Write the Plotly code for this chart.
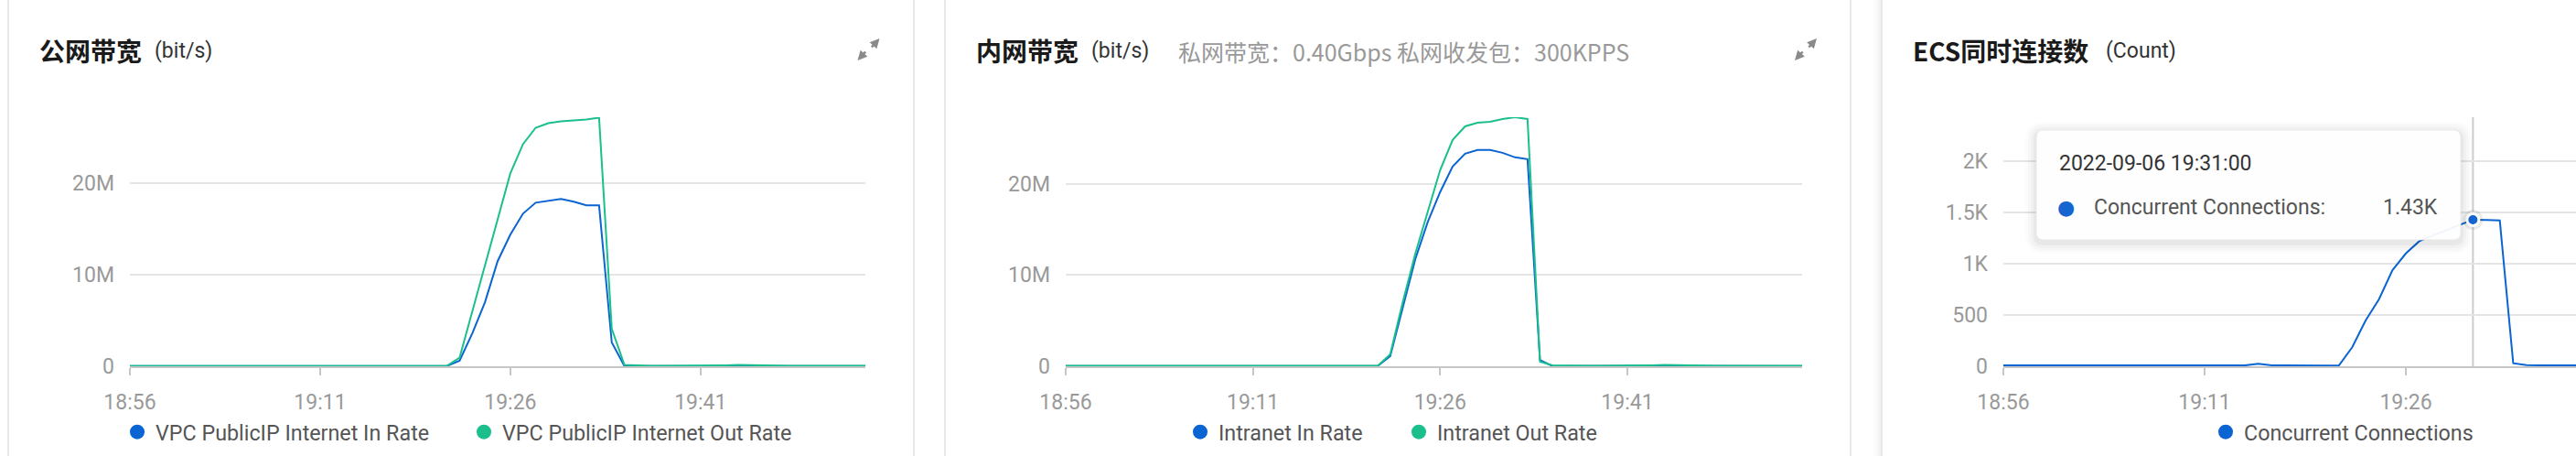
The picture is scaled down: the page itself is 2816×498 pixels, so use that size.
import plotly.graph_objects as go
from datetime import datetime, timedelta

W, H = 2816, 498
FONT = "Roboto, 'Noto Sans CJK SC', sans-serif"
CJK = "'Noto Sans CJK SC', Roboto, sans-serif"
BLUE = "#0a64d2"
GREEN = "#1bbf8d"

start = datetime(2022, 9, 6, 18, 56)

# ---------------- data ----------------
# Panel 1: public bandwidth (Mbit/s), one point per minute from 18:56
public_in = [0.02, 0.02, 0.02, 0.02, 0.02, 0.02, 0.02, 0.02, 0.03, 0.03,
             0.03, 0.02, 0.02, 0.02, 0.02, 0.02, 0.02, 0.02, 0.02, 0.02,
             0.02, 0.03, 0.02, 0.02, 0.02, 0.03, 0.6, 3.6, 7.0, 11.5,
             14.4, 16.7, 17.9, 18.1, 18.3, 18.0, 17.6, 17.6, 2.6, 0.02,
             0.02, 0.02, 0.02, 0.02, 0.02, 0.02, 0.02, 0.03, 0.05, 0.03,
             0.02, 0.02, 0.02, 0.02, 0.02, 0.02, 0.02, 0.02, 0.02]
public_out = [0.03, 0.03, 0.03, 0.04, 0.04, 0.04, 0.04, 0.05, 0.06, 0.08,
              0.06, 0.04, 0.03, 0.03, 0.03, 0.03, 0.03, 0.04, 0.04, 0.03,
              0.03, 0.04, 0.03, 0.03, 0.03, 0.05, 0.95, 6.0, 11.2, 16.2,
              21.1, 24.3, 26.1, 26.6, 26.8, 26.9, 27.0, 27.2, 4.1, 0.15,
              0.08, 0.05, 0.04, 0.04, 0.04, 0.04, 0.05, 0.1, 0.14, 0.1,
              0.05, 0.04, 0.04, 0.04, 0.04, 0.04, 0.04, 0.04, 0.04]

# Panel 2: intranet bandwidth (Mbit/s)
intranet_in = [0.03, 0.03, 0.03, 0.03, 0.03, 0.03, 0.03, 0.03, 0.03, 0.03,
               0.04, 0.05, 0.04, 0.03, 0.03, 0.03, 0.03, 0.03, 0.03, 0.03,
               0.03, 0.04, 0.03, 0.03, 0.03, 0.03, 1.1, 6.3, 11.7, 15.8,
               19.1, 21.9, 23.3, 23.7, 23.7, 23.4, 22.9, 22.7, 0.7, 0.02,
               0.03, 0.03, 0.03, 0.03, 0.03, 0.03, 0.03, 0.04, 0.05, 0.04,
               0.03, 0.03, 0.03, 0.03, 0.03, 0.03, 0.03, 0.03, 0.03, 0.03]
intranet_out = [0.05, 0.05, 0.05, 0.05, 0.05, 0.05, 0.05, 0.05, 0.06, 0.08,
                0.1, 0.12, 0.08, 0.05, 0.05, 0.05, 0.05, 0.05, 0.05, 0.05,
                0.06, 0.08, 0.06, 0.05, 0.05, 0.05, 1.3, 7.0, 12.3, 17.0,
                21.5, 24.8, 26.3, 26.7, 26.8, 27.1, 27.3, 27.1, 0.5, 0.1,
                0.06, 0.05, 0.05, 0.05, 0.05, 0.05, 0.06, 0.1, 0.14, 0.1,
                0.06, 0.05, 0.05, 0.05, 0.05, 0.05, 0.05, 0.05, 0.05, 0.05]

# Panel 3: concurrent connections (count)
connections = [10, 10, 9, 9, 9, 9, 8, 9, 10, 12,
               14, 12, 10, 9, 9, 9, 8, 8, 8, 24,
               10, 9, 8, 8, 8, 6, 185, 446, 655, 937,
               1101, 1220, 1275, 1327, 1380, 1430, 1428, 1422, 30, 12,
               9, 9, 9, 9, 8, 8, 8, 8, 8, 8,
               8, 8, 8, 8, 8, 8]

bw_ticks = [0, 10e6, 20e6]
bw_ticktext = ["0", "10M", "20M"]
conn_ticks = [0, 500, 1000, 1500, 2000]
conn_ticktext = ["0", "500", "1K", "1.5K", "2K"]
time_ticktext = ["18:56", "19:11", "19:26", "19:41"]
time_tickvals = [start + timedelta(minutes=15 * i) for i in range(4)]

t1 = [start + timedelta(minutes=i) for i in range(len(public_in))]
t2 = [start + timedelta(minutes=i) for i in range(len(intranet_in))]
t3 = [start + timedelta(minutes=i) for i in range(len(connections))]
M = 1e6


def X(px):
    return px / W


def Y(py):
    return 1 - py / H


fig = go.Figure()

# ---- panel 1 traces
fig.add_trace(go.Scatter(x=t1, y=[v * M for v in public_in], mode="lines",
                         line=dict(color=BLUE, width=2), xaxis="x", yaxis="y",
                         showlegend=False, hoverinfo="skip"))
fig.add_trace(go.Scatter(x=t1, y=[v * M for v in public_out], mode="lines",
                         line=dict(color=GREEN, width=2), xaxis="x", yaxis="y",
                         showlegend=False, hoverinfo="skip"))
# ---- panel 2 traces
fig.add_trace(go.Scatter(x=t2, y=[v * M for v in intranet_in], mode="lines",
                         line=dict(color=BLUE, width=2), xaxis="x2", yaxis="y2",
                         showlegend=False, hoverinfo="skip"))
fig.add_trace(go.Scatter(x=t2, y=[v * M for v in intranet_out], mode="lines",
                         line=dict(color=GREEN, width=2), xaxis="x2", yaxis="y2",
                         showlegend=False, hoverinfo="skip"))
# ---- panel 3 trace
fig.add_trace(go.Scatter(x=t3, y=connections, mode="lines",
                         line=dict(color=BLUE, width=2), xaxis="x3", yaxis="y3",
                         showlegend=False, hoverinfo="skip"))
# highlighted point at 19:31
hi = 35
fig.add_trace(go.Scatter(x=[t3[hi]], y=[connections[hi]], mode="markers",
                         marker=dict(color="rgba(0,0,0,0.08)", size=22),
                         xaxis="x3", yaxis="y3", showlegend=False, hoverinfo="skip"))
fig.add_trace(go.Scatter(x=[t3[hi]], y=[connections[hi]], mode="markers",
                         marker=dict(color="#1565d0", size=13, line=dict(color="white", width=3)),
                         xaxis="x3", yaxis="y3", showlegend=False, hoverinfo="skip"))

# ---- legend entries
def leg(name, color, legend, xa, ya):
    fig.add_trace(go.Scatter(x=[None], y=[None], mode="markers", name=name,
                             marker=dict(color=color, size=16, symbol="circle"),
                             legend=legend, xaxis=xa, yaxis=ya))

leg("VPC PublicIP Internet In Rate", BLUE, "legend", "x", "y")
leg("VPC PublicIP Internet Out Rate", GREEN, "legend", "x", "y")
leg("Intranet In Rate", BLUE, "legend2", "x2", "y2")
leg("Intranet Out Rate", GREEN, "legend2", "x2", "y2")
leg("Concurrent Connections", BLUE, "legend3", "x3", "y3")

PLOT_TOP, PLOT_BOT = 128, 400
ydom = [Y(PLOT_BOT), Y(PLOT_TOP)]


def xaxis(dom, rng_min):
    return dict(type="date", domain=dom, anchor=None, automargin=False,
                range=[start, start + timedelta(minutes=rng_min)],
                tickvals=time_tickvals, ticktext=time_ticktext,
                showgrid=False, zeroline=False, showline=True, linecolor="#c6c6c6",
                linewidth=2, ticks="outside", ticklen=8, tickwidth=2, tickcolor="#c6c6c6",
                tickfont=dict(size=23, color="#999999", family=FONT),
                ticklabelstandoff=9, layer="below traces", fixedrange=True)


def yaxis(rng, tv, tt):
    return dict(domain=ydom, range=rng, tickvals=tv, ticktext=tt, automargin=False,
                showgrid=True, gridcolor="#e5e5e5", gridwidth=2, zeroline=False,
                showline=False, ticks="", tickfont=dict(size=23, color="#999999", family=FONT),
                ticklabelstandoff=16, layer="below traces", fixedrange=True)


xa1 = xaxis([X(142), X(946)], 58.0); xa1["anchor"] = "y"
xa2 = xaxis([X(1165), X(1970)], 59.0); xa2["anchor"] = "y2"
xa3 = xaxis([X(2190), 1.0], 42.68); xa3["anchor"] = "y3"
ya1 = yaxis([0, 27.25e6], bw_ticks, bw_ticktext); ya1["anchor"] = "x"
ya2 = yaxis([0, 27.3e6], bw_ticks, bw_ticktext); ya2["anchor"] = "x2"
ya3 = yaxis([0, 2430], conn_ticks, conn_ticktext); ya3["anchor"] = "x3"

shapes = []
# cards
for x0, x1 in [(9, 999), (1033, 2023), (2057, 3047)]:
    shapes.append(dict(type="rect", xref="paper", yref="paper", x0=X(x0), x1=X(x1),
                       y0=Y(H + 20), y1=Y(-20), line=dict(color="#e8e8e8", width=2),
                       fillcolor="white", layer="below"))
# soft shadow at the left edge of the third card
for i, a in enumerate([0.05, 0.035, 0.02, 0.01]):
    shapes.append(dict(type="line", xref="paper", yref="paper", x0=X(2055 - i * 2), x1=X(2055 - i * 2),
                       y0=0, y1=1, line=dict(color=f"rgba(0,0,0,{a})", width=2), layer="below"))

# crosshair at 19:31
shapes.append(dict(type="line", xref="x3", yref="paper", x0=t3[hi], x1=t3[hi],
                   y0=Y(PLOT_BOT), y1=Y(PLOT_TOP), line=dict(color="#cccccc", width=2), layer="below"))


def rrect(x0, y0, x1, y1, r):
    return (f"M{X(x0 + r)},{Y(y0)} L{X(x1 - r)},{Y(y0)} Q{X(x1)},{Y(y0)} {X(x1)},{Y(y0 + r)} "
            f"L{X(x1)},{Y(y1 - r)} Q{X(x1)},{Y(y1)} {X(x1 - r)},{Y(y1)} L{X(x0 + r)},{Y(y1)} "
            f"Q{X(x0)},{Y(y1)} {X(x0)},{Y(y1 - r)} L{X(x0)},{Y(y0 + r)} Q{X(x0)},{Y(y0)} {X(x0 + r)},{Y(y0)} Z")


# tooltip box with faux shadow
tx0, ty0, tx1, ty1 = 2226, 142, 2690, 262
for d, a in [(12, 0.012), (9, 0.018), (6, 0.025), (3, 0.035)]:
    shapes.append(dict(type="path", xref="paper", yref="paper",
                       path=rrect(tx0 - d, ty0 - d + 3, tx1 + d, ty1 + d + 3, 8 + d),
                       fillcolor=f"rgba(0,0,0,{a})", line=dict(width=0), layer="above"))
shapes.append(dict(type="path", xref="paper", yref="paper", path=rrect(tx0, ty0, tx1, ty1, 8),
                   fillcolor="rgba(255,255,255,0.94)", line=dict(color="rgba(230,230,230,0.8)", width=1),
                   layer="above"))

ann = []


def text(x, y, s, size, color, family=FONT, xanchor="left"):
    ann.append(dict(x=X(x), y=Y(y), xref="paper", yref="paper", text=s, showarrow=False,
                    xanchor=xanchor, yanchor="middle", font=dict(size=size, color=color, family=family)))


# titles
text(41, 55, "<b>公网带宽</b>", 28, "#1a1a1a", CJK)
text(167, 56, "(bit/s)", 23, "#333333")
text(1065, 55, "<b>内网带宽</b>", 28, "#1a1a1a", CJK)
text(1191, 56, "(bit/s)", 23, "#333333")
text(1286, 56, "私网带宽：0.40Gbps 私网收发包：300KPPS", 25, "#999999", CJK)
text(2089, 55, "<b>ECS同时连接数</b>", 28, "#1a1a1a", CJK)
text(2300, 56, "(Count)", 23, "#333333")

# tooltip texts
text(2249, 178, "2022-09-06 19:31:00", 23, "#333333")
text(2287, 226, "Concurrent Connections:", 23, "#555555")
text(2667, 226, f"{connections[hi] / 1000:.2f}K", 23, "#555555", xanchor="right")
ann.append(dict(x=X(2258), y=Y(226), xref="paper", yref="paper", text="●", showarrow=False,
                font=dict(size=22, color="#1565d0", family="DejaVu Sans"), xanchor="center", yanchor="middle"))

# expand icons
for cx in (949.5, 1974):
    for hx, hy, dx, dy in [(cx + 12, 42, -10, 11), (cx - 12, 66, 10, -11)]:
        ann.append(dict(x=X(hx), y=Y(hy), xref="paper", yref="paper", ax=dx, ay=dy,
                        text="", showarrow=True, arrowhead=2, arrowsize=0.8, arrowwidth=2.6,
                        arrowcolor="#8a8a8a"))

legend_common = dict(orientation="h", yanchor="middle", xanchor="left",
                     font=dict(size=23.3, color="#555555", family=FONT),
                     bgcolor="rgba(0,0,0,0)", itemclick=False, itemdoubleclick=False)

fig.update_layout(
    width=W, height=H, autosize=False,
    margin=dict(l=0, r=0, t=0, b=0, pad=0, autoexpand=False),
    paper_bgcolor="white", plot_bgcolor="rgba(0,0,0,0)",
    font=dict(family=FONT),
    xaxis=xa1, yaxis=ya1, xaxis2=xa2, yaxis2=ya2, xaxis3=xa3, yaxis3=ya3,
    shapes=shapes, annotations=ann,
    legend=dict(x=X(130), y=Y(472), entrywidth=334, **legend_common),
    legend2=dict(x=X(1292), y=Y(472), entrywidth=194, **legend_common),
    legend3=dict(x=X(2413), y=Y(472), **legend_common),
    hovermode=False,
)

fig.write_html("out.html", config={"displayModeBar": False, "staticPlot": True},
               post_script="document.body.style.margin='0px';document.body.style.overflow='hidden';")
